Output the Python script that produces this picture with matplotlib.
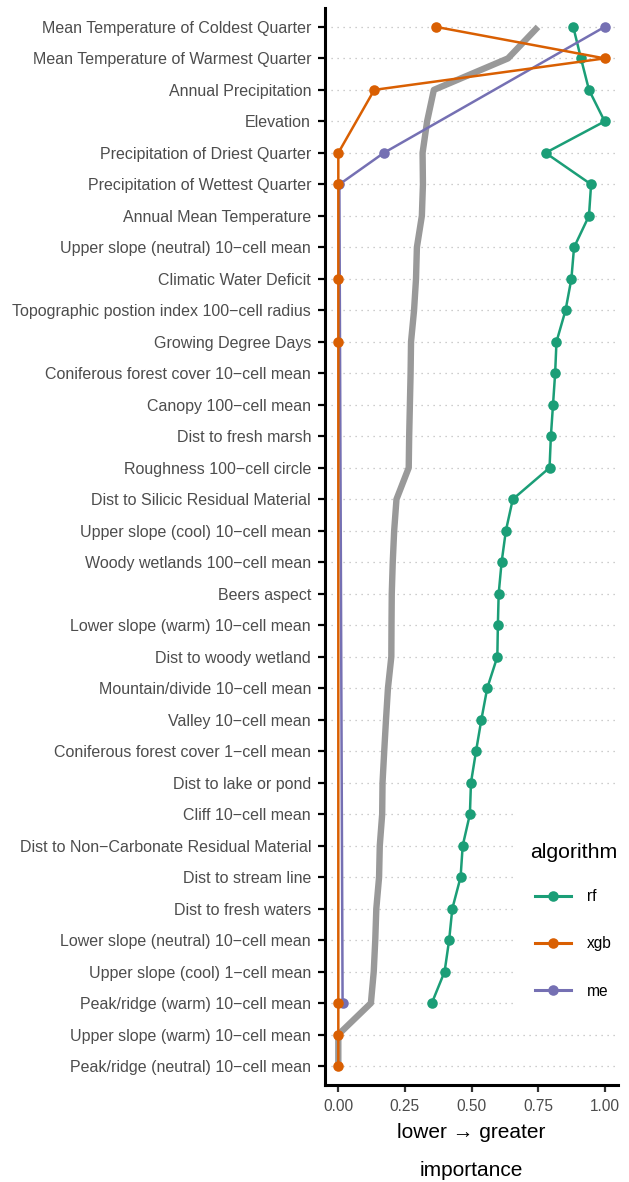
import numpy as np
import matplotlib
matplotlib.use("Agg")
import matplotlib.pyplot as plt
from matplotlib.lines import Line2D
from matplotlib.patches import Rectangle

nan = np.nan

features = [
    "Mean Temperature of Coldest Quarter",
    "Mean Temperature of Warmest Quarter",
    "Annual Precipitation",
    "Elevation",
    "Precipitation of Driest Quarter",
    "Precipitation of Wettest Quarter",
    "Annual Mean Temperature",
    "Upper slope (neutral) 10\u2212cell mean",
    "Climatic Water Deficit",
    "Topographic postion index 100\u2212cell radius",
    "Growing Degree Days",
    "Coniferous forest cover 10\u2212cell mean",
    "Canopy 100\u2212cell mean",
    "Dist to fresh marsh",
    "Roughness 100\u2212cell circle",
    "Dist to Silicic Residual Material",
    "Upper slope (cool) 10\u2212cell mean",
    "Woody wetlands 100\u2212cell mean",
    "Beers aspect",
    "Lower slope (warm) 10\u2212cell mean",
    "Dist to woody wetland",
    "Mountain/divide 10\u2212cell mean",
    "Valley 10\u2212cell mean",
    "Coniferous forest cover 1\u2212cell mean",
    "Dist to lake or pond",
    "Cliff 10\u2212cell mean",
    "Dist to Non\u2212Carbonate Residual Material",
    "Dist to stream line",
    "Dist to fresh waters",
    "Lower slope (neutral) 10\u2212cell mean",
    "Upper slope (cool) 1\u2212cell mean",
    "Peak/ridge (warm) 10\u2212cell mean",
    "Upper slope (warm) 10\u2212cell mean",
    "Peak/ridge (neutral) 10\u2212cell mean",
]

rf = [0.882, 0.911, 0.941, 1.000, 0.778, 0.949, 0.941, 0.885, 0.875, 0.853,
      0.819, 0.814, 0.806, 0.798, 0.793, 0.655, 0.629, 0.613, 0.602, 0.599,
      0.597, 0.559, 0.537, 0.517, 0.498, 0.494, 0.467, 0.459, 0.428, 0.416,
      0.399, 0.351, nan, nan]

xgb = [0.367, 1.000, 0.135, nan, 0.000, 0.000, nan, nan, 0.000, nan,
       0.000, nan, nan, nan, nan, nan, nan, nan, nan, nan,
       nan, nan, nan, nan, nan, nan, nan, nan, nan, nan,
       nan, 0.000, 0.000, 0.000]

me = [1.000, nan, nan, nan, 0.171, 0.004, nan, nan, nan, nan,
      nan, nan, nan, nan, nan, nan, nan, nan, nan, nan,
      nan, nan, nan, nan, nan, nan, nan, nan, nan, nan,
      nan, 0.016, nan, nan]

algorithms = ["rf", "xgb", "me"]
colors = {"rf": "#1B9E77", "xgb": "#D95F02", "me": "#7570B3"}
x_ticks = [0.0, 0.25, 0.5, 0.75, 1.0]
x_ticklabels = ["0.00", "0.25", "0.50", "0.75", "1.00"]

plt.rcParams['font.family'] = ['Liberation Sans', 'DejaVu Sans']

W, H = 629, 1182
fig = plt.figure(figsize=(W / 100, H / 100), dpi=100)
ax = fig.add_axes([325 / W, 1 - 1085 / H, (618 - 325) / W, (1085 - 8) / H])

y = np.arange(len(features))
series = {"rf": np.array(rf, float), "xgb": np.array(xgb, float), "me": np.array(me, float)}

# mean importance (missing treated as zero)
mean_imp = np.nan_to_num(np.vstack([series[a] for a in algorithms])).mean(axis=0)
ax.plot(mean_imp, y, color="#999999", lw=4.6, zorder=2, solid_capstyle='butt')

zorders = {"rf": 3, "me": 4, "xgb": 5}
for a in algorithms:
    v = series[a]
    m = ~np.isnan(v)
    ax.plot(v[m], y[m], color=colors[a], lw=1.8, marker='o', ms=7.6,
            markeredgewidth=0, zorder=zorders[a])

ax.set_ylim(len(features) - 1 + 0.6, -0.6)
ax.set_xlim(-0.05, 1.05)
ax.set_yticks(y)
ax.set_yticklabels(features)
ax.set_xticks(x_ticks)
ax.set_xticklabels(x_ticklabels)

ax.set_axisbelow(True)
ax.yaxis.grid(True, linestyle=(0, (1, 3.8)), color='#BDBDBD', lw=0.9)
ax.xaxis.grid(False)

for s in ['top', 'right']:
    ax.spines[s].set_visible(False)
for s in ['left', 'bottom']:
    ax.spines[s].set_linewidth(2.2)
    ax.spines[s].set_color('black')
    ax.spines[s].set_capstyle('projecting')

ax.tick_params(axis='y', length=5, width=1.6, color='black', labelsize=11.5,
               labelcolor='#4D4D4D', pad=5)
ax.tick_params(axis='x', length=5, width=1.6, color='#333333', labelsize=11.2,
               labelcolor='#4D4D4D', pad=4.8)

fig.text(471 / W, 1 - 1133 / H, "lower \u2192 greater", ha='center', va='center',
         fontsize=15, color='black')
fig.text(471 / W, 1 - 1171 / H, "importance", ha='center', va='center',
         fontsize=15, color='black')

# legend background
ax.add_patch(Rectangle((515 / W, 1 - 1021 / H), (629 - 515) / W, (1021 - 800) / H,
                       transform=fig.transFigure, facecolor='white', edgecolor='none',
                       zorder=1, clip_on=False))
fig.text(530 / W, 1 - 852 / H, "algorithm", ha='left', va='center',
         fontsize=15.3, color='black', zorder=7)
handles = [Line2D([], [], color=colors[a], lw=2.2, marker='o', ms=7.6, markeredgewidth=0)
           for a in algorithms]
leg = ax.legend(handles, algorithms, loc='upper left',
                bbox_to_anchor=(535 / W, 1 - 889 / H), bbox_transform=fig.transFigure,
                frameon=False, fontsize=11.2, numpoints=1,
                handlelength=2.34, handletextpad=1.02, labelspacing=2.08,
                borderpad=0, borderaxespad=0)
leg.set_zorder(6)

fig.savefig("out.png", dpi=100)
